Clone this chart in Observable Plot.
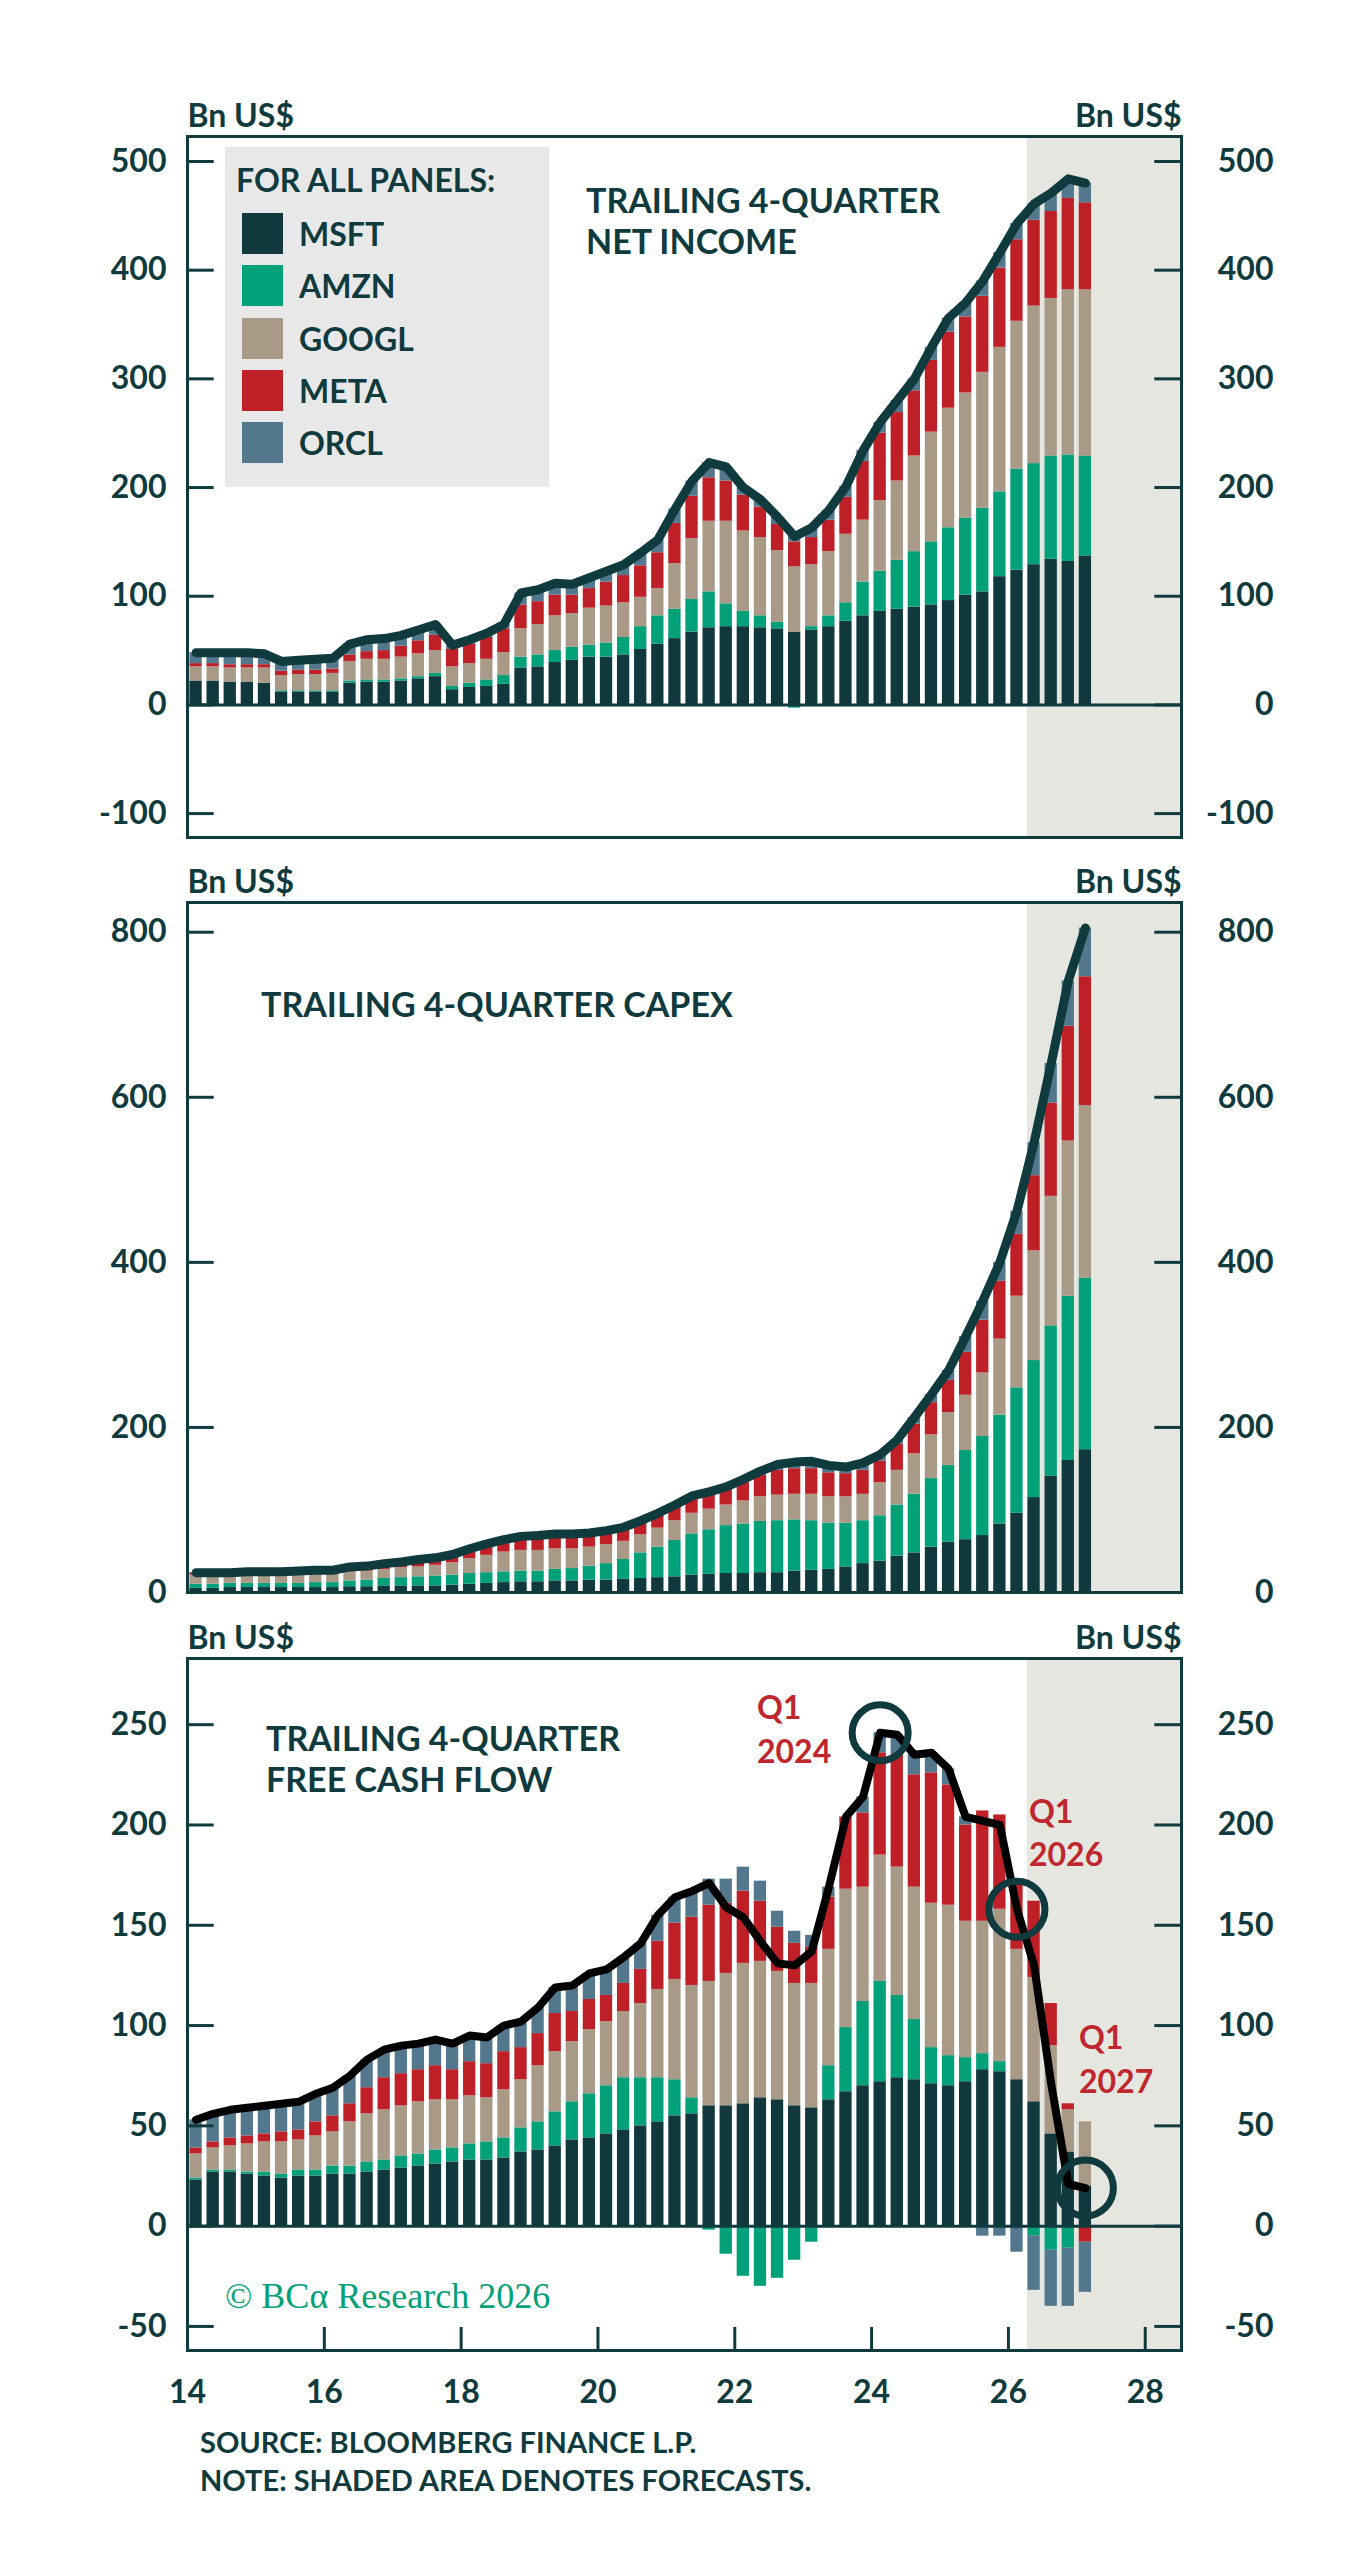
<!DOCTYPE HTML>
<html lang="en-US">
  <head>
    <meta charset="UTF-8">
    <title>Hyperscalers: net income, capex, free cash flow</title>
    <style>
      body { margin: 0; background: #fff; }
      #chart { position: relative; width: 1367px; height: 2560px; font-family: Lato, "Open Sans", sans-serif; color: #0f3a3e; font-weight: 700; }
      #chart svg { position: absolute; left: 0; overflow: visible; }
      #chart svg text { font-weight: 700; }
      .abs { position: absolute; white-space: nowrap; line-height: 1; }
      .title { font-size: 34px; }
      .note { font-size: 29px; }
      .red { color: #c0262d; font-size: 32px; }
      #legend { position: absolute; left: 225px; top: 147px; width: 324px; height: 340px; background: #e8e8e8; }
      #legend .row { position: absolute; left: 17px; display: flex; align-items: center; font-size: 32px; }
      #legend .sw { width: 41px; height: 41px; margin-right: 16px; }
    </style>
  </head>
  <body>
    <div id="chart">
      <div id="legend">
        <div class="abs" style="left:11px;top:17px;font-size:32px">FOR ALL PANELS:</div>
      </div>
      <div class="abs title" style="left:586px;top:183px">TRAILING 4-QUARTER</div>
      <div class="abs title" style="left:586px;top:224px">NET INCOME</div>
      <div class="abs title" style="left:261px;top:987px">TRAILING 4-QUARTER CAPEX</div>
      <div class="abs title" style="left:266px;top:1721px">TRAILING 4-QUARTER</div>
      <div class="abs title" style="left:266px;top:1762px">FREE CASH FLOW</div>
      <div class="abs red" style="left:757px;top:1691px">Q1</div>
      <div class="abs red" style="left:757px;top:1735px">2024</div>
      <div class="abs red" style="left:1029px;top:1795px">Q1</div>
      <div class="abs red" style="left:1029px;top:1838px">2026</div>
      <div class="abs red" style="left:1079px;top:2021px">Q1</div>
      <div class="abs red" style="left:1079px;top:2065px">2027</div>
      <div class="abs" style="left:225px;top:2278px;font-family:'Liberation Serif',serif;font-weight:400;font-size:36px;color:#00a079">© BCα Research 2026</div>
      <div class="abs note" style="left:200px;top:2427px">SOURCE: BLOOMBERG FINANCE L.P.</div>
      <div class="abs note" style="left:200px;top:2465px">NOTE: SHADED AREA DENOTES FORECASTS.</div>
    </div>
    <script src="https://cdn.jsdelivr.net/npm/d3@7"></script>
    <script src="https://cdn.jsdelivr.net/npm/@observablehq/plot@0.6"></script>
    <script type="module" defer>
      const companies = ['MSFT', 'AMZN', 'GOOGL', 'META', 'ORCL'];
      const colors = ['#10383d', '#00a079', '#a89a87', '#bf1f26', '#53788e'];
      const quarters = [];
      for (let y = 2014; y <= 2027; y++) for (let q = 1; q <= 4; q++) if (quarters.length < 53) quarters.push(`${y}Q${q}`);
      const forecastStart = 2026.28;
      const highlights = ['2024Q1', '2026Q1', '2027Q1'];

      // trailing 4-quarter net income, Bn US$
      const niMSFT = [22,22,21,21,20, 12,12,12,12, 20,21,21,22,24,26, 14,16,17,19, 34,35,39,41,44,44,46,51,56, 61,67,71,72,72,71,70,67,69,72,77, 82,86,88,90,92,96,101,104,118,124,129,134,132,137];
      const niAMZN = [0,0,0,0,0, 1,1,1,1, 2,2,2,2,2,3, 3,4,6,8, 10,11,11,12,11,13,16,21,26, 27,30,33,21,14,11,6,-3,3,10,17, 31,37,45,51,58,67,71,77,78,93,93,95,98,92];
      const niGOOGL = [13,13,13,13,14, 14,15,15,16, 18,19,19,20,21,21, 18,18,19,21, 26,28,32,31,34,34,32,27,25, 42,56,65,76,74,72,66,60,57,59,63, 57,65,73,88,101,110,115,125,133,136,145,145,152,153];
      const niMETA = [3,3,3,3,3, 4,4,4,4, 6,7,8,10,12,14, 16,18,20,22, 22,21,19,17,18,22,25,29,33, 37,39,40,37,33,28,24,23,25,29,34, 54,62,63,60,66,70,70,70,73,75,79,80,84,80];
      const niORCL = [10,10,11,11,10, 9,9,10,10, 10,11,11,10,10,10, 4,4,4,4, 11,11,11,10,10,10,10,12,12, 13,14,14,13,7,7,7,8,9,9,10, 10,10,11,11,12,13,13,14,14,15,15,17,18,18];

      // trailing 4-quarter capex, Bn US$
      const cxMSFT = [5,5,6,6,6,6,6,6,6,7, 7,8,8,8,8,9,10,11,12,13, 13,14,14,15,15,16,17,18,19,21, 22,23,23,24,24,26,27,28,31, 35,38,44,48,55,61,64,69,83,96,115,141,160,173];
      const cxAMZN = [5,5,5,5,5,5,5,6,6,7, 8,9,10,11,12,12,13,13,13,13, 13,14,15,17,20,24,31,37,44,50, 54,58,60,62,63,62,60,56,53, 52,55,62,71,83,93,108,120,132,152,166,182,199,208];
      const cxGOOGL = [11,11,10,10,10,10,10,10,10,11, 11,11,12,12,13,15,18,21,24,25, 25,25,24,23,23,22,22,23,24,25, 25,25,28,30,31,31,32,32,32, 32,40,42,49,53,64,67,77,92,111,133,157,188,209];
      const cxMETA = [2,2,2,3,3,3,4,4,4,5, 5,6,6,7,7,8,10,12,13,15, 16,16,16,15,15,15,15,16,17,19, 19,19,22,26,30,31,31,29,28, 29,26,32,36,39,39,52,64,70,75,91,113,139,156];
      const cxORCL = [1,1,1,1,1,1,1,1,1,1, 1,1,1,2,2,2,2,2,2,2, 2,2,2,2,2,2,2,2,2,2, 2,3,4,5,7,8,9,9,8, 9,8,5,8,10,12,19,23,23,28,40,48,55,59];

      // trailing 4-quarter free cash flow, Bn US$
      const fcfMSFT = [23,27,27,26,25,24,25,25,26,26, 27,28,29,30,31,32,33,33,34,37, 38,40,43,44,46,48,50,52,55,56, 60,60,61,64,63,60,59,63,67,70, 72,74,73,71,70,72,78,77,73,62, 46,37,20];
      const fcfAMZN = [1,1,1,1,2,2,3,3,4,4, 5,5,6,6,7,7,8,9,10,12, 14,17,19,22,24,26,24,22,18,8, -2,-14,-25,-30,-26,-17,-8,17,32,42, 50,41,30,18,15,12,8,5,0,-5, -12,-11,0];
      const fcfGOOGL = [12,11,12,14,15,16,15,17,17,22, 24,25,25,26,25,24,24,22,24,24, 28,30,30,32,32,33,37,44,50,56, 62,66,70,68,64,61,62,58,69,57, 63,64,66,72,75,68,66,76,65,62, 44,21,32];
      const fcfMETA = [3,3,4,4,4,5,5,7,8,9, 13,16,16,16,17,15,17,17,19,16, 16,19,15,15,13,14,17,24,28,34, 38,35,36,30,22,20,18,26,36,37, 51,56,56,65,60,48,55,47,33,38, 21,3,-8];
      const fcfORCL = [14,14,14,14,14,14,14,14,14,14, 14,14,14,13,13,13,13,13,13,13, 13,13,13,13,13,13,13,13,13,13, 13,12,12,10,8,6,6,5,0,8, 10,10,10,10,8,4,-5,-5,-13,-27, -28,-29,-25];

      const ink = '#0f3a3e';
      const qx = s => +s.slice(0, 4) + (+s[5] - 1) * 0.25 + 0.125;
      const xDomain = [2014, 2028.53];

      function stacked(series) {
        const rows = [], totals = [];
        quarters.forEach((q, i) => {
          let pos = 0, neg = 0, sum = 0;
          companies.forEach((c, k) => {
            const v = series[k][i];
            sum += v;
            if (v >= 0) { rows.push({q, x: qx(q), company: c, y1: pos, y2: pos + v}); pos += v; }
            else { rows.push({q, x: qx(q), company: c, y1: neg, y2: neg + v}); neg += v; }
          });
          totals.push({q, x: qx(q), total: sum});
        });
        return {rows, totals};
      }

      function panel({series, yDomain, ticks, top, marginTop, frameH, marginBottom, lineColor, lineWidth, xAxis, circles}) {
        const {rows, totals} = stacked(series);
        const tick = 0.39;
        const marks = [
          Plot.rect([0], {x1: forecastStart, x2: xDomain[1], fill: '#e6e6e0'}),
          Plot.rect(rows, {x1: d => d.x - 0.09, x2: d => d.x + 0.09, y1: 'y1', y2: 'y2', fill: 'company'}),
          Plot.ruleY([0], {stroke: ink, strokeWidth: 3}),
          Plot.line(totals, {x: 'x', y: 'total', stroke: lineColor, strokeWidth: lineWidth, strokeLinejoin: 'round'}),
          Plot.ruleY(ticks, {x1: xDomain[0], x2: xDomain[0] + tick, stroke: ink, strokeWidth: 3}),
          Plot.ruleY(ticks, {x1: xDomain[1] - tick, x2: xDomain[1], stroke: ink, strokeWidth: 3}),
          Plot.axisY(ticks, {anchor: 'left', tickSize: 0, tickPadding: 21, tickFormat: d => String(d), label: null, fontSize: 32, fill: ink}),
          Plot.axisY(ticks, {anchor: 'right', tickSize: 0, tickPadding: 92, textAnchor: 'end', tickFormat: d => String(d), label: null, fontSize: 32, fill: ink}),
          Plot.text(['Bn US$'], {frameAnchor: 'top-left', dy: -32, textAnchor: 'start', fontSize: 32, fill: ink}),
          Plot.text(['Bn US$'], {frameAnchor: 'top-right', dy: -32, textAnchor: 'end', fontSize: 32, fill: ink}),
          Plot.frame({stroke: ink, strokeWidth: 3})
        ];
        if (xAxis) {
          marks.push(
            Plot.ruleX(xAxis, {y1: yDomain[0], y2: yDomain[0] + 11.5, stroke: ink, strokeWidth: 3}),
            Plot.axisX(xAxis, {anchor: 'bottom', tickSize: 0, tickPadding: 30, tickFormat: d => d - 2000, label: null, fontSize: 32, fill: ink})
          );
        }
        if (circles) {
          marks.push(Plot.dot(totals.filter(d => circles.includes(d.q)), {x: 'x', y: 'total', r: 28, stroke: ink, strokeWidth: 7, fill: 'none'}));
        }
        const svg = Plot.plot({
          width: 1367,
          height: marginTop + frameH + marginBottom,
          marginTop, marginBottom,
          marginLeft: 187, marginRight: 186,
          style: {fontFamily: 'Lato, sans-serif', fontSize: '32px', color: ink, overflow: 'visible'},
          x: {domain: xDomain, axis: null},
          y: {domain: yDomain, axis: null},
          color: {domain: companies, range: colors},
          marks
        });
        svg.style.top = `${top}px`;
        document.getElementById('chart').insertAdjacentElement('afterbegin', svg);
      }

      panel({series: [niMSFT, niAMZN, niGOOGL, niMETA, niORCL], yDomain: [-122, 523], ticks: [-100, 0, 100, 200, 300, 400, 500],
        top: 80, marginTop: 56, frameH: 701, marginBottom: 4, lineColor: ink, lineWidth: 9});
      panel({series: [cxMSFT, cxAMZN, cxGOOGL, cxMETA, cxORCL], yDomain: [0, 836], ticks: [0, 200, 400, 600, 800],
        top: 845, marginTop: 57, frameH: 690, marginBottom: 4, lineColor: ink, lineWidth: 9});
      panel({series: [fcfMSFT, fcfAMZN, fcfGOOGL, fcfMETA, fcfORCL], yDomain: [-62, 283], ticks: [-50, 0, 50, 100, 150, 200, 250],
        top: 1600, marginTop: 58, frameH: 692, marginBottom: 60, lineColor: '#000', lineWidth: 8,
        xAxis: [2014, 2016, 2018, 2020, 2022, 2024, 2026, 2028], circles: highlights});

      const legend = document.getElementById('legend');
      companies.forEach((c, k) => {
        const row = document.createElement('div');
        row.className = 'row';
        row.style.top = `${66 + 52.3 * k}px`;
        row.innerHTML = `<span class="sw" style="background:${colors[k]}"></span>${c}`;
        legend.appendChild(row);
      });
      document.getElementById('chart').appendChild(legend);
    </script>
  </body>
</html>
